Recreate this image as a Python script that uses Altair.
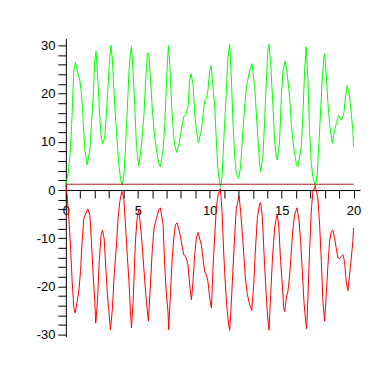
import altair as alt
import pandas as pd

# green curve (x, y)
green_x = [0, 0.16, 0.28, 0.39, 0.46, 0.56, 0.67, 0.86, 0.97, 1.09, 1.2, 1.32, 1.48,
           1.67, 1.78, 1.9, 2.01, 2.1, 2.2, 2.32, 2.43, 2.55,
           2.71, 2.82, 2.94, 3.06, 3.13, 3.24, 3.4, 3.56, 3.7, 3.82, 3.91,
           4.03, 4.14, 4.28, 4.38, 4.49, 4.56, 4.68, 4.79, 4.91, 5.07,
           5.25, 5.42, 5.56, 5.67, 5.76, 5.88, 6.0, 6.13, 6.3, 6.46, 6.57,
           6.76, 6.88, 6.99, 7.06, 7.13, 7.24, 7.36, 7.48, 7.59, 7.71,
           7.87, 8.03, 8.19, 8.33, 8.49, 8.61, 8.7, 8.84, 8.96, 9.07, 9.22,
           9.42, 9.53, 9.65, 9.77, 9.88, 10.0, 10.1, 10.35, 10.46, 10.58, 10.69, 10.76,
           10.86, 10.99, 11.16, 11.27, 11.39, 11.51, 11.62, 11.74, 11.85, 12.01,
           12.15, 12.31, 12.43, 12.55, 12.78, 12.94, 13.13, 13.24, 13.36, 13.47, 13.54,
           13.7, 13.82, 13.94, 14.05, 14.12, 14.24, 14.4, 14.51, 14.63, 14.7,
           14.86, 14.98, 15.09, 15.25, 15.39, 15.56, 15.67, 15.83, 16.02, 16.13,
           16.37, 16.48, 16.6, 16.71, 16.83, 16.94, 17.06, 17.17, 17.34,
           17.48, 17.64, 17.82, 17.94, 17.99, 18.1, 18.22, 18.33, 18.52,
           18.68, 18.8, 18.96, 19.14, 19.31, 19.44, 19.56, 19.72, 19.84, 19.95, 20]
green_y = [1.0, 3.4, 6.9, 12.4, 18, 24.8, 26.5, 24.1, 22.8, 20, 14.5, 8.3, 5.2,
           8.3, 13.8, 19.3, 26.9, 28.8, 24.2, 17.2, 11.7, 9.5,
           11, 15.9, 22, 27.6, 30, 26.9, 17.2, 10.3, 4.8, 2.1, 1.0,
           2.8, 8.3, 17.2, 24.2, 28.3, 29.8, 24.1, 17.6, 9, 5.0,
           9, 15.2, 23.4, 28.3, 28.4, 23.4, 17.2, 12.4, 8.3, 5.6, 4.8,
           8.3, 13.8, 22, 26.2, 30, 25.5, 17.2, 11.7, 9, 7.8,
           9.7, 12.4, 15.2, 15.5, 17.2, 22.8, 24.1, 22, 15.9, 12.4, 9.8,
           12.4, 15.5, 18.6, 19, 20.7, 24.8, 25.8, 17.2, 10.3, 4.1, 1.4, 0.7,
           2.8, 11, 20.7, 27.6, 30.2, 22.8, 13.8, 6.9, 3.4, 2.4,
           4.8, 12.4, 17.2, 21.4, 24.8, 26.2, 21.4, 15.9, 10.3, 5.5, 3.8,
           6.9, 14.5, 22.8, 29, 30.2, 26.2, 17.2, 10.3, 6.9, 6.2,
           10.3, 19.3, 24.8, 26.8, 24.1, 19.3, 13.8, 9, 5.5, 4.8,
           9, 15.9, 24.8, 29.7, 22.8, 12.4, 5.5, 2.8, 0.7,
           3.4, 12.4, 22.8, 27.6, 28.3, 24.1, 17.9, 13.8, 9.7,
           12.4, 13.8, 15.5, 14.5, 15.5, 19.3, 21.7, 19.3, 15.9, 12.4, 9]

# red curve (x, y)
red_x = [0, 0.09, 0.21, 0.32, 0.44, 0.56, 0.65, 0.79, 0.9, 1.02, 1.13, 1.25, 1.44, 1.53,
         1.67, 1.78, 1.9, 2.01, 2.08, 2.2, 2.32, 2.45, 2.55,
         2.66, 2.78, 2.89, 3.01, 3.1, 3.24, 3.36, 3.52, 3.63, 3.75, 3.89,
         4.03, 4.14, 4.28, 4.4, 4.49, 4.56, 4.68, 4.79, 4.85, 4.95, 5.07,
         5.25, 5.42, 5.56, 5.67, 5.74, 5.88, 6.0, 6.13, 6.3, 6.46, 6.57,
         6.76, 6.88, 6.99, 7.1, 7.15, 7.27, 7.38, 7.5, 7.62, 7.73,
         7.87, 8.03, 8.19, 8.38, 8.49, 8.61, 8.73, 8.84, 8.96, 9.07, 9.19,
         9.42, 9.65, 9.77, 9.88, 10.0, 10.12, 10.23, 10.35, 10.46, 10.58, 10.74,
         10.86, 10.97, 11.09, 11.2, 11.32, 11.39, 11.51, 11.62, 11.74, 11.85, 12.04,
         12.15, 12.31, 12.48, 12.62, 12.78, 12.92, 13.06, 13.17, 13.31, 13.47, 13.54,
         13.66, 13.77, 13.89, 14.0, 14.12, 14.24, 14.35, 14.51, 14.63, 14.7,
         14.81, 14.93, 15.05, 15.14, 15.21, 15.33, 15.44, 15.56, 15.67, 15.79, 15.9, 16.06,
         16.2, 16.32, 16.44, 16.55, 16.67, 16.74, 16.83, 16.94, 17.06, 17.17, 17.34,
         17.52, 17.64, 17.76, 17.87, 17.99, 18.1, 18.22, 18.33, 18.45, 18.56,
         18.68, 18.8, 18.91, 19.03, 19.14, 19.26, 19.37, 19.49, 19.61,
         19.72, 19.84, 19.95, 20]
red_y = [1.0, -1, -5.9, -11.4, -19, -24.5, -25.5, -23.1, -21, -16.9, -10.7, -5.9, -4.5, -3.9,
         -5.2, -10.7, -17.6, -23.1, -27.6, -23, -14.8, -9.3, -8.3,
         -10, -16.2, -21.7, -25.9, -29, -24.5, -17.6, -11.4, -5.9, -2.4, -0.3,
         -1.7, -7, -14, -19.7, -25.2, -28.6, -23.1, -14, -10, -6, -3.9,
         -9.3, -16.2, -21.7, -25.2, -27.2, -19.7, -12.8, -7.9, -5.9, -4.1, -3.7,
         -7.2, -16.2, -21.5, -25.2, -29, -21.7, -14.8, -10, -7.2, -6.8,
         -8.3, -10.7, -13.4, -14.1, -15.5, -19.7, -22.8, -19, -13.4, -10, -8.8,
         -11.4, -16.9, -17.6, -19, -22.4, -24.5, -16.2, -9.3, -3.8, -1, 0.3,
         -4.5, -12.8, -19.7, -24.5, -27.9, -29.1, -23, -16.2, -9.3, -3.8, -1.2,
         -4.5, -10.7, -18.3, -21.7, -23.8, -25, -19.7, -12.8, -5.9, -2.8, -2.6,
         -5.5, -12.8, -19.7, -25.2, -29.1, -21.7, -14.8, -7.9, -5.9, -5,
         -7.9, -14.8, -19.7, -24.5, -25.2, -22.4, -21, -17.6, -12.8, -7.9, -5.2, -3.7,
         -6, -10.7, -16.9, -23.1, -27.2, -28.8, -22, -12.8, -4.5, -0.3, 0.8,
         -1.7, -7.2, -14.8, -23.1, -27.2, -21.7, -15.5, -10.7, -8.6, -8.3,
         -10, -12.1, -14.1, -14.2, -13.8, -13.4, -14.8, -19, -20.9,
         -17.6, -14.1, -10.7, -7.9]

# horizontal line
hline_y = [1.2]
hline_x = [0]
hline_x2 = [20]

x_ticks = list(range(0, 21))
y_ticks = list(range(-30, 31, 2))

XMIN, XMAX = 0, 20.45
YMIN, YMAX = -30.4, 31.45
W, H = 295, 299
x_axis_offset = -H * (0 - YMIN) / (YMAX - YMIN)

FONT = "Liberation Sans"

df_g = pd.DataFrame({"x": green_x, "y": green_y})
df_r = pd.DataFrame({"x": red_x, "y": red_y})
df_h = pd.DataFrame({"x": hline_x, "x2": hline_x2, "y": hline_y})

xscale = alt.Scale(domain=[XMIN, XMAX], nice=False, zero=False)
yscale = alt.Scale(domain=[YMIN, YMAX], nice=False, zero=False)

xaxis = alt.Axis(values=x_ticks, tickCount=len(x_ticks) + 5,
                 labelExpr="datum.value % 5 == 0 ? '' + datum.value : ''",
                 orient="bottom", offset=x_axis_offset, tickSize=8, tickColor="black",
                 domainColor="black", labelColor="black", labelFont=FONT, labelFontSize=13,
                 labelPadding=7, labelOverlap=False, labelFlush=False, labelAngle=0,
                 grid=False, title=None)
yaxis = alt.Axis(values=y_ticks, tickCount=len(y_ticks) + 5,
                 labelExpr="datum.value % 10 == 0 ? '' + datum.value : ''",
                 orient="left", tickSize=8, tickColor="black", domainColor="black",
                 labelColor="black", labelFont=FONT, labelFontSize=13, labelPadding=3,
                 labelOverlap=False, labelFlush=False, grid=False, title=None)

green = alt.Chart(df_g).mark_line(color="#00ff00", strokeWidth=1).encode(
    x=alt.X("x:Q", scale=xscale, axis=xaxis),
    y=alt.Y("y:Q", scale=yscale, axis=yaxis),
)
red = alt.Chart(df_r).mark_line(color="#ff0000", strokeWidth=1).encode(
    x=alt.X("x:Q", scale=xscale),
    y=alt.Y("y:Q", scale=yscale),
)
hline = alt.Chart(df_h).mark_rule(color="#b02020", strokeWidth=1).encode(
    x=alt.X("x:Q", scale=xscale),
    x2="x2:Q",
    y=alt.Y("y:Q", scale=yscale),
)

chart = alt.layer(green, red, hline).properties(
    width=W, height=H,
    autosize=alt.AutoSizeParams(type="none"),
    padding={"left": 58, "top": 30, "right": 14, "bottom": 30},
    background="white",
).configure_view(stroke=None)

chart.save("out.html", embed_options={"renderer": "svg", "actions": False})
